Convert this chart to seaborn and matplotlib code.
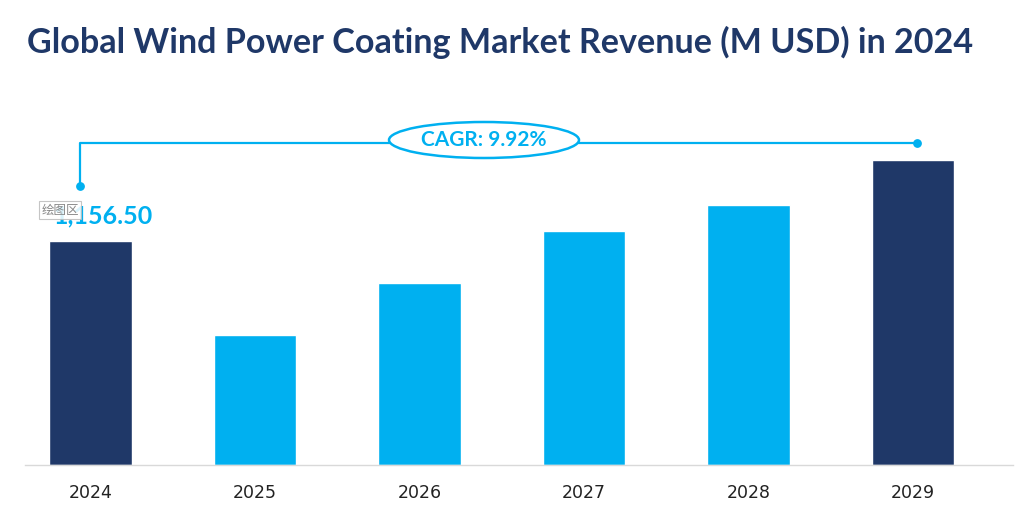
import matplotlib
matplotlib.use('Agg')
import matplotlib.pyplot as plt
from matplotlib.patches import Ellipse
import seaborn as sns
import pandas as pd

# data
years = ['2024', '2025', '2026', '2027', '2028', '2029']
revenue = [1156.50, 671.2, 939.7, 1208.2, 1342.4, 1574.8]
bar_colors = ['#1F3868', '#00B0F0', '#00B0F0', '#00B0F0', '#00B0F0', '#1F3868']
title = 'Global Wind Power Coating Market Revenue (M USD) in 2024'
cagr_text = 'CAGR: 9.92%'

navy = '#1F3868'
blue = '#00B0F0'

sns.set_style('white')
plt.rcParams['font.family'] = ['Lato', 'DejaVu Sans']

df = pd.DataFrame({'Year': years, 'Revenue': revenue})

fig = plt.figure(figsize=(10.18, 5.12), dpi=100)
ax = fig.add_axes([25 / 1018, 1 - 465 / 512, 988 / 1018, 365 / 512])

sns.barplot(data=df, x='Year', y='Revenue', hue='Year', palette=bar_colors,
            width=0.5, legend=False, ax=ax, saturation=1)

# axis scale: units per px, axis 365 px tall
px = 1156.5 / 224
ax.set_ylim(0, 365 * px)
ax.set_xlim((25 - 90.5) / 164.5, (1013 - 90.5) / 164.5)
ax.set_yticks([])
ax.set_ylabel('')
ax.set_xlabel('')
for s in ['top', 'right', 'left']:
    ax.spines[s].set_visible(False)
ax.spines['bottom'].set_color('#D9D9D9')
ax.spines['bottom'].set_linewidth(1)
ax.tick_params(axis='x', length=0, pad=14)
for lbl in ax.get_xticklabels():
    lbl.set_fontfamily(['Liberation Sans Narrow', 'DejaVu Sans Condensed', 'DejaVu Sans'])
    lbl.set_fontsize(12.5)
    lbl.set_color('#222222')

# value label on first bar
ax.text((103 - 90.5) / 164.5, (465 - 216) * px, f'{revenue[0]:,.2f}', ha='center',
        va='center', fontsize=18, fontweight='bold', color=blue)

# excel plot-area tooltip
ax.text((60 - 90.5) / 164.5, (465 - 210) * px, '绘图区', ha='center', va='center',
        fontsize=9, color='#888888', family=['Noto Sans CJK SC', 'DejaVu Sans'], zorder=10,
        bbox=dict(boxstyle='square,pad=0.2', fc='white', ec='#BBBBBB', lw=0.8, alpha=0.85))

# CAGR bracket
y_line = (465 - 143) * px
y_dot = (465 - 186) * px
x_left = (80 - 90.5) / 164.5
x_right = (917 - 90.5) / 164.5
x_ell = (484 - 90.5) / 164.5
ax.plot([x_left, x_left, x_right], [y_dot, y_line, y_line], color=blue, lw=1.6,
        clip_on=False, zorder=3)
ax.scatter([x_left, x_right], [y_dot, y_line], color=blue, s=28, zorder=4, clip_on=False)
ell = Ellipse((x_ell, (465 - 140) * px), width=190 / 164.5, height=36 * px,
              facecolor='white', edgecolor=blue, lw=1.8, zorder=5, clip_on=False)
ax.add_patch(ell)
ax.text(x_ell, (465 - 140) * px, cagr_text, ha='center', va='center', fontsize=15,
        fontweight='bold', color=blue, zorder=6)

fig.text(27 / 1018, 1 - 42 / 512, title, ha='left', va='center', fontsize=24.6,
         fontweight='bold', color=navy)

fig.savefig('out.png', dpi=100)
